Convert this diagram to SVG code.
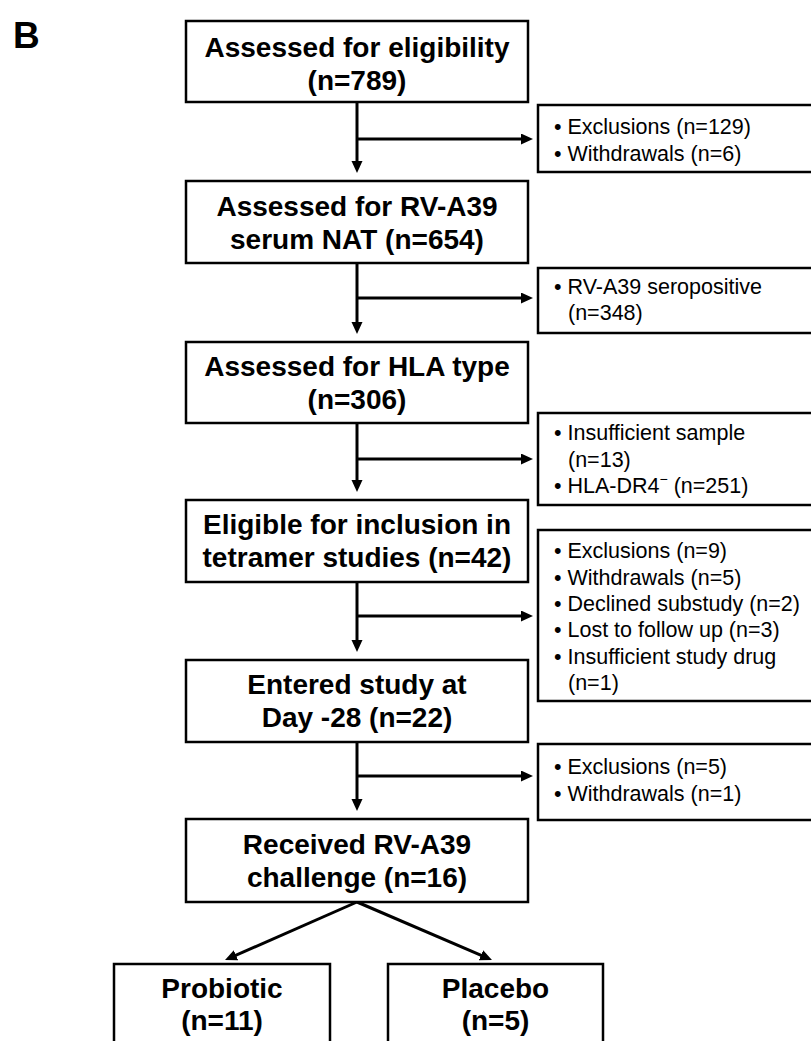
<svg xmlns="http://www.w3.org/2000/svg" width="811" height="1041" viewBox="0 0 811 1041">
<style>
.box{fill:#fff;stroke:#000;stroke-width:2.5}
.main{font-family:"Liberation Sans",Arial,sans-serif;font-weight:bold;font-size:28px;text-anchor:middle;fill:#000}
.side{font-family:"Liberation Sans",Arial,sans-serif;font-size:21.5px;fill:#000}
.conn{fill:none;stroke:#000;stroke-width:3}
</style>
<defs>
<marker id="ah" markerUnits="userSpaceOnUse" markerWidth="12" markerHeight="12" refX="6" refY="5.5" orient="auto">
<path d="M0,0 L12,5.5 L0,11 z" fill="#000"/>
</marker>
</defs>
<rect width="811" height="1041" fill="#fff"/>
<text x="13" y="48" font-family="Liberation Sans,Arial,sans-serif" font-weight="bold" font-size="37">B</text>

<g id="connectors">
<path class="conn" d="M357,102 V167" marker-end="url(#ah)"/>
<path class="conn" d="M357,139 H527" marker-end="url(#ah)"/>
<path class="conn" d="M357,263 V328" marker-end="url(#ah)"/>
<path class="conn" d="M357,298 H527" marker-end="url(#ah)"/>
<path class="conn" d="M357,423 V486" marker-end="url(#ah)"/>
<path class="conn" d="M357,459 H527" marker-end="url(#ah)"/>
<path class="conn" d="M357,582 V646" marker-end="url(#ah)"/>
<path class="conn" d="M357,616 H527" marker-end="url(#ah)"/>
<path class="conn" d="M357,742 V805" marker-end="url(#ah)"/>
<path class="conn" d="M357,776 H527" marker-end="url(#ah)"/>
<path class="conn" d="M357,902 L230.5,957.6" marker-end="url(#ah)"/>
<path class="conn" d="M357,902 L486.5,957.6" marker-end="url(#ah)"/>
</g>

<g id="n1"><rect class="box" x="186" y="21" width="342" height="81"/>
<text class="main" x="357" y="57">Assessed for eligibility</text>
<text class="main" x="357" y="90">(n=789)</text></g>

<g id="n2"><rect class="box" x="186" y="181" width="342" height="82"/>
<text class="main" x="357" y="216">Assessed for RV-A39</text>
<text class="main" x="357" y="249">serum NAT (n=654)</text></g>

<g id="n3"><rect class="box" x="186" y="342" width="342" height="81"/>
<text class="main" x="357" y="376">Assessed for HLA type</text>
<text class="main" x="357" y="409">(n=306)</text></g>

<g id="n4"><rect class="box" x="186" y="500" width="342" height="82"/>
<text class="main" x="357" y="534">Eligible for inclusion in</text>
<text class="main" x="357" y="567">tetramer studies (n=42)</text></g>

<g id="n5"><rect class="box" x="186" y="660" width="342" height="82"/>
<text class="main" x="357" y="694">Entered study at</text>
<text class="main" x="357" y="727">Day -28 (n=22)</text></g>

<g id="n6"><rect class="box" x="186" y="819" width="342" height="83"/>
<text class="main" x="357" y="854">Received RV-A39</text>
<text class="main" x="357" y="887">challenge (n=16)</text></g>

<g id="n7"><rect class="box" x="114" y="964" width="216" height="90"/>
<text class="main" x="222" y="998">Probiotic</text>
<text class="main" x="222" y="1030">(n=11)</text></g>

<g id="n8"><rect class="box" x="388" y="964" width="215" height="90"/>
<text class="main" x="495.5" y="998">Placebo</text>
<text class="main" x="495.5" y="1030">(n=5)</text></g>

<g id="s1"><rect class="box" x="538" y="105" width="280" height="67"/>
<text class="side" x="554" y="134">• Exclusions (n=129)</text>
<text class="side" x="554" y="161">• Withdrawals (n=6)</text></g>

<g id="s2"><rect class="box" x="538" y="268" width="280" height="65"/>
<text class="side" x="554" y="294">• RV-A39 seropositive</text>
<text class="side" x="568" y="320">(n=348)</text></g>

<g id="s3"><rect class="box" x="538" y="413" width="280" height="92"/>
<text class="side" x="554" y="440">• Insufficient sample</text>
<text class="side" x="568" y="467">(n=13)</text>
<text class="side" x="554" y="493">• HLA-DR4<tspan dy="-9" font-size="14">−</tspan><tspan dy="9"> (n=251)</tspan></text></g>

<g id="s4"><rect class="box" x="538" y="530" width="280" height="171"/>
<text class="side" x="554" y="558">• Exclusions (n=9)</text>
<text class="side" x="554" y="585">• Withdrawals (n=5)</text>
<text class="side" x="554" y="611">• Declined substudy (n=2)</text>
<text class="side" x="554" y="637">• Lost to follow up (n=3)</text>
<text class="side" x="554" y="664">• Insufficient study drug</text>
<text class="side" x="568" y="690">(n=1)</text></g>

<g id="s5"><rect class="box" x="538" y="744" width="280" height="76"/>
<text class="side" x="554" y="774">• Exclusions (n=5)</text>
<text class="side" x="554" y="801">• Withdrawals (n=1)</text></g>
</svg>
